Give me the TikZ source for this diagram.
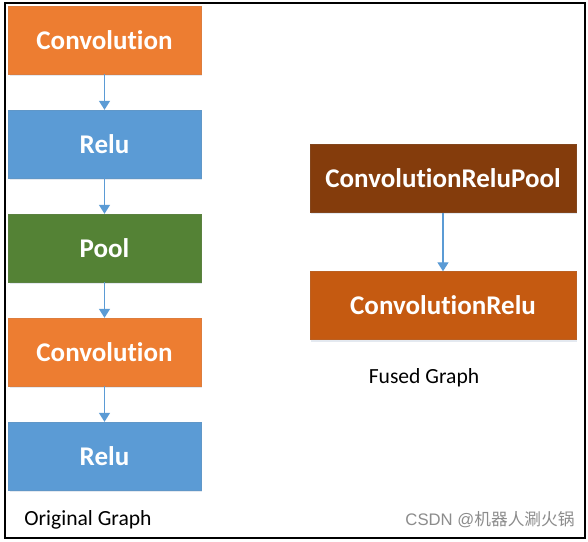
\documentclass[tikz,border=0pt]{standalone}
\usepackage{fontspec}
\setmainfont{Carlito}[Ligatures=NoCommon]
\newfontfamily\cjk{Noto Sans CJK SC}
\usetikzlibrary{arrows.meta}
\definecolor{cOrange}{HTML}{ED7D31}
\definecolor{cBlue}{HTML}{5B9BD5}
\definecolor{cGreen}{HTML}{548235}
\definecolor{cBrown}{HTML}{843C0C}
\definecolor{cDkOrange}{HTML}{C55A11}
\definecolor{cShadow}{HTML}{E4E9F0}
\tikzset{
  opbox/.style={rectangle, minimum width=193pt, minimum height=68pt, inner sep=0pt,
    text=white, font=\bfseries\fontsize{27}{31}\selectfont, draw=#1!85!gray, line width=0.4pt, fill=#1},
  widebox/.style={opbox=#1, minimum width=266pt},
  flow/.style={draw=cBlue, line width=1.4pt, -{Triangle[width=11pt,length=9pt]}},
  caption/.style={font=\fontsize{21.6}{25}\selectfont, text=black},
}
\begin{document}
\begin{tikzpicture}[x=1pt,y=1pt]
\useasboundingbox (0,0) rectangle (588,541);
\fill[white] (0,0) rectangle (588,541);
\draw[line width=1.3pt] (5,3) rectangle (585,538);
% shadows
\foreach \yy in {501,397,293,189,85} {
  \fill[cShadow] (9.5,\yy-36) rectangle (201.5,\yy-32);
}
\foreach \yy in {362.5,235.5} {
  \fill[cShadow] (311,\yy-36) rectangle (577,\yy-32);
}
\node[opbox=cOrange] (c1) at (104.5,501) {Convolution};
\node[opbox=cBlue]   (r1) at (104.5,397) {Relu};
\node[opbox=cGreen]  (p1) at (104.5,293) {Pool};
\node[opbox=cOrange] (c2) at (104.5,189) {Convolution};
\node[opbox=cBlue]   (r2) at (104.5,85)  {Relu};
\node[widebox=cBrown]    (f1) at (443,362.5) {ConvolutionReluPool};
\node[widebox=cDkOrange] (f2) at (443,235.5) {ConvolutionRelu};
\draw[flow] (c1) -- (r1);
\draw[flow] (r1) -- (p1);
\draw[flow] (p1) -- (c2);
\draw[flow] (c2) -- (r2);
\draw[flow] (f1) -- (f2);
\node[caption] (og) at (88,21) {Original Graph};
\node[caption] (fg) at (424,163) {Fused Graph};
\node[font=\fontsize{16.7}{20}\selectfont, text=black!45] (wm) at (490,21) {\fontspec{Liberation Sans}CSDN @\cjk 机器人涮火锅};
\end{tikzpicture}
\end{document}
